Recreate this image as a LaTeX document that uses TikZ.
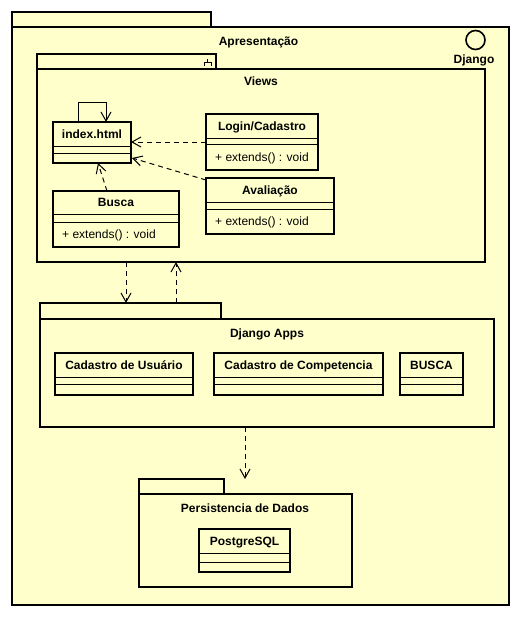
\documentclass[tikz,border=0pt]{standalone}
\usepackage{fontspec}
\setmainfont{Liberation Sans}
\usetikzlibrary{arrows.meta,calc}

\definecolor{umlfill}{HTML}{FFFFCC}

\tikzset{
  pkgshape/.style={draw=black, line width=2pt, fill=umlfill, inner sep=0pt, outer sep=0pt},
  cls/.style={draw=black, line width=2pt, fill=umlfill, inner sep=0pt, outer sep=0pt},
  sepline/.style={draw=black, line width=1pt},
  ttl/.style={font=\fontsize{12}{14}\selectfont\bfseries, inner sep=0pt,
    text height=8.6pt, text depth=0.6pt},
  mth/.style={font=\fontsize{12}{14}\selectfont, inner sep=0pt, anchor=west,
    text height=8.6pt, text depth=0.6pt},
  dep/.style={draw=black, line width=1pt, dash pattern=on 5pt off 4pt,
    -{Straight Barb[length=9pt,width=10pt,line width=1pt]}},
  selfdep/.style={draw=black, line width=1pt,
    -{Straight Barb[length=9pt,width=10pt,line width=1pt]}}
}

% class box: name, NW corner, width, height, title, 1st rule, 2nd rule, operation
\newcommand\classbox[8]{%
  \node[cls, minimum width=#3pt, minimum height=#4pt, anchor=north west] (#1) at (#2) {};
  \node[ttl] (#1-t) at ($(#1.north)+(0,#6/2)$) {#5};
  \draw[sepline] ($(#1.north west)+(0,#6)$) -- ($(#1.north east)+(0,#6)$);
  \draw[sepline] ($(#1.north west)+(0,#7)$) -- ($(#1.north east)+(0,#7)$);
  \node[mth] (#1-m) at ($(#1.north west)+(9,{(#7+#4)/2})$) {#8};
}

\begin{document}
\begin{tikzpicture}[x=1pt,y=-1pt]
\useasboundingbox (0,0) rectangle (522,621);

% outer package: Apresentacao
\node[pkgshape, minimum width=199pt, minimum height=15pt, anchor=north west] (pres-tab) at (12,12) {};
\node[pkgshape, minimum width=497pt, minimum height=578pt, anchor=north west] (pres) at (12,27) {};
\node[ttl] (pres-t) at (258.5,41) {Apresentação};

% Django interface
\node[draw=black, line width=1.6pt, circle, minimum size=19pt, inner sep=0pt] (django) at (475.5,40) {};
\node[ttl] (django-t) at (474,59) {Django};

% Views package
\node[pkgshape, minimum width=179pt, minimum height=15pt, anchor=north west] (views-tab) at (37,54) {};
\node[pkgshape, minimum width=448pt, minimum height=193pt, anchor=north west] (views) at (37,69) {};
\node[ttl] (views-t) at (261,81) {Views};
\draw[line width=1pt] (207.5,59) -- (207.5,62.5) (204,66) -- (204,62.5) -- (211,62.5) -- (211,66);

\classbox{index}{53,122}{78}{41}{index.html}{24}{31}{}
\classbox{login}{206,114}{112}{56}{Login/Cadastro}{24}{30}{+ extends() : void}
\classbox{aval}{206,178}{128}{56}{Avaliação}{24}{31}{+ extends() : void}
\classbox{busca}{53,191}{126}{56}{Busca}{23}{31}{+ extends() : void}

\draw[selfdep] ($(index.north west)+(25,0)$) -- ++(0,-20) -| ($(index.north west)+(53,0)$);
\draw[dep] (login.west) -- (login.west -| index.east);
\draw[dep] ($(aval.north west)+(0,2)$) -- ($(index.south east)+(1,-5)$);
\draw[dep] ($(busca.north west)+(54,0)$) -- ($(index.south west)+(45,0)$);

% Django Apps package
\node[pkgshape, minimum width=181pt, minimum height=16pt, anchor=north west] (apps-tab) at (40,303) {};
\node[pkgshape, minimum width=454pt, minimum height=108pt, anchor=north west] (apps) at (40,319) {};
\node[ttl] (apps-t) at (267,333) {Django Apps};

\classbox{cadu}{55,353}{138}{42}{Cadastro de Usuário}{24}{31}{}
\classbox{cadc}{214,353}{169}{42}{Cadastro de Competencia}{24}{31}{}
\classbox{busca2}{400,353}{63}{42}{BUSCA}{24}{31}{}

\draw[dep] ($(views.south west)+(89,0)$) -- ($(apps-tab.north west)+(86,0)$);
\draw[dep] ($(apps-tab.north west)+(136,0)$) -- ($(views.south west)+(139,0)$);

% Persistencia de Dados package
\node[pkgshape, minimum width=85pt, minimum height=15pt, anchor=north west] (pers-tab) at (139,479) {};
\node[pkgshape, minimum width=213pt, minimum height=93pt, anchor=north west] (pers) at (139,494) {};
\node[ttl] (pers-t) at (245,508) {Persistencia de Dados};

\classbox{pg}{199,529}{91}{43}{PostgreSQL}{24}{33}{}

\draw[dep] ($(apps.south west)+(205,0)$) -- ($(pers-tab.north west)+(106,0)$);
\end{tikzpicture}
\end{document}
